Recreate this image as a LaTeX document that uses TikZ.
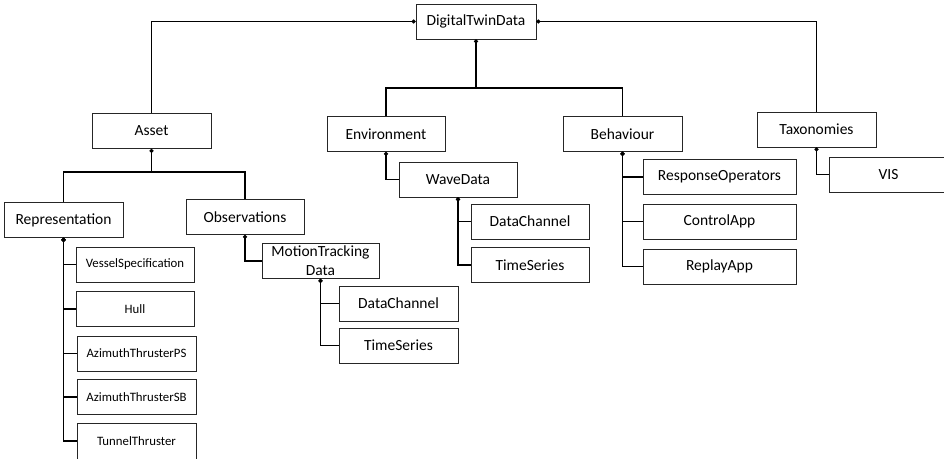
\documentclass[tikz,border=0pt]{standalone}
\usepackage{fontspec}
\setmainfont{Carlito}
\usetikzlibrary{arrows.meta}
\begin{document}
\begin{tikzpicture}[x=1pt,y=-1pt,
  box/.style={draw=black!85,line width=0.9pt,rectangle,inner sep=0pt,
    minimum width=119pt,minimum height=35pt,align=center,
    font=\fontsize{15.5}{19}\selectfont},
  smallbox/.style={box,font=\fontsize{12.8}{15}\selectfont},
  conn/.style={draw=black,line width=1.2pt,{Circle[length=4pt]}-},
  link/.style={draw=black,line width=1.2pt}]
\useasboundingbox (0,0) rectangle (944,458);
\clip (0,0) rectangle (944,458);

% top level
\node[box,minimum width=120pt] (dtd) at (476,21.5) {DigitalTwinData};
\node[box] (asset) at (151.5,131) {Asset};
\node[box,minimum width=118pt] (env) at (386,134) {Environment};
\node[box] (beh) at (622.5,134) {Behaviour};
\node[box] (tax) at (816.5,129.5) {Taxonomies};
\node[box] (vis) at (888.5,174.5) {VIS};

% asset branch
\node[box] (rep) at (63.5,220) {Representation};
\node[box,minimum width=118pt] (obs) at (245,217) {Observations};
\node[box,minimum width=117pt] (mtd) at (320.5,261) {MotionTracking\\Data};
\node[box] (mdc) at (398.5,303.5) {DataChannel};
\node[box] (mts) at (398.5,345.5) {TimeSeries};

\node[smallbox,minimum width=118pt] (vs) at (135,264.5) {VesselSpecification};
\node[smallbox,minimum width=118pt] (hull) at (135,309) {Hull};
\node[smallbox] (aps) at (136.5,353.5) {AzimuthThrusterPS};
\node[smallbox] (asb) at (136.5,397) {AzimuthThrusterSB};
\node[smallbox,minimum height=36pt] (tt) at (136.5,441) {TunnelThruster};

% environment branch
\node[box,minimum width=118pt] (wave) at (458,179.5) {WaveData};
\node[box,minimum width=118pt] (wdc) at (530,221.5) {DataChannel};
\node[box,minimum width=118pt] (wts) at (530,265) {TimeSeries};

% behaviour branch
\node[box,minimum width=153pt] (ro) at (719.5,177) {ResponseOperators};
\node[box,minimum width=153pt] (ca) at (719.5,221.5) {ControlApp};
\node[box,minimum width=153pt] (ra) at (719.5,266.5) {ReplayApp};

% junction points of the shared buses
\coordinate (bus) at (476,88);
\coordinate (abus) at (151.5,172);

% connectors
\draw[conn] (dtd.west) -| (asset.north);
\draw[conn] (dtd.east) -| (tax.north);
\draw[conn] (dtd.south) -- (bus);
\draw[link] (env.north) |- (bus) -| (beh.north);

\draw[conn] (asset.south) -- (abus);
\draw[link] (rep.north) |- (abus) -| (obs.north);

\foreach \c in {vs,hull,aps,asb,tt}
  \draw[conn] (rep.south) |- (\c.west);
\draw[conn] (obs.south) |- (mtd.west);
\foreach \c in {mdc,mts}
  \draw[conn] (mtd.south) |- (\c.west);

\draw[conn] (env.south) |- (wave.west);
\foreach \c in {wdc,wts}
  \draw[conn] (wave.south) |- (\c.west);

\foreach \c in {ro,ca,ra}
  \draw[conn] (beh.south) |- (\c.west);

\draw[conn] (tax.south) |- (vis.west);
\end{tikzpicture}
\end{document}
